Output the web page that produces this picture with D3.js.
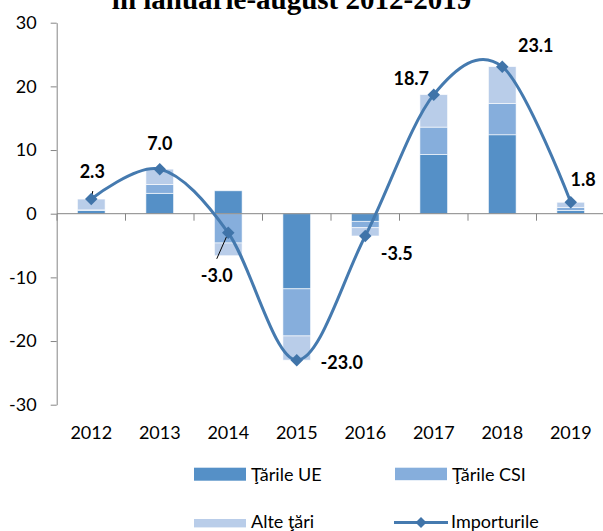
<!DOCTYPE html>
<html>
<head>
<meta charset="utf-8">
<script src="https://cdn.jsdelivr.net/npm/d3@7/dist/d3.min.js"></script>
<style>
  html, body { margin: 0; padding: 0; background: #fff; }
  svg { display: block; }
  text { font-family: Lato, "Open Sans", sans-serif; }
</style>
</head>
<body>
<svg id="chart" width="603" height="531"></svg>
<script>
// Categories and series (mil. USD, variation)
const years = ["2012", "2013", "2014", "2015", "2016", "2017", "2018", "2019"];
const tariUE  = [0.5, 3.2, 3.6, -11.8, -1.2, 9.3, 12.4, 0.5];
const tariCSI = [0.1, 1.4, -4.6, -7.4, -1.0, 4.3, 4.9, 0.5];
const alteTari = [1.7, 2.4, -2.0, -3.8, -1.3, 5.1, 5.8, 0.8];
const importurile = [2.3, 7.0, -3.0, -23.0, -3.5, 18.7, 23.1, 1.8];
const yTicks = [-30, -20, -10, 0, 10, 20, 30];
const seriesNames = ["Ţările UE", "Ţările CSI", "Alte ţări", "Importurile"];
const titleText = "în ianuarie-august 2012-2019";

// Styling
const colors = { ue: "#5590c7", csi: "#86aedc", alte: "#b9cde9", line: "#457aaf", axis: "#868686" };
// Label placement relative to each marker [dx, dy]
const labelOffsets = [[1, -28], [0, -26], [-11.5, 43], [45, 2], [31.5, 17.5], [-22.5, -16.3], [33.5, -21.6], [12.3, -22.5]];
// Leader lines: start offset from the label centre (null = none)
const leaders = [[0.5, 20], null, [0, -17], null, null, null, null, null];

const svg = d3.select("#chart");

const x = d3.scaleBand()
  .domain(years)
  .range([57, 605])
  .paddingInner(0.5955)
  .paddingOuter(0.5955 / 2);
const step = x.step();

const y = d3.scaleLinear().domain([-30, 30]).range([404.7, 22.7]);

// Title (only the lower line remains inside the frame)
svg.append("text")
  .attr("x", 291.5).attr("y", 8.5)
  .attr("text-anchor", "middle")
  .style("font-family", "'Liberation Serif', 'Times New Roman', serif")
  .style("font-weight", "bold")
  .style("font-size", "29px")
  .text(titleText);

// Y axis
const yAxis = d3.axisLeft(y).tickValues(yTicks).tickSize(6).tickSizeOuter(0).tickPadding(14)
  .tickFormat(d => String(d));
const gy = svg.append("g").attr("transform", "translate(56.7,0)").call(yAxis);
gy.select(".domain").attr("stroke", colors.axis);
gy.selectAll(".tick line").attr("stroke", colors.axis);
gy.selectAll(".tick text").style("font-size", "18px").attr("fill", "#000")
  .style("font-family", "Lato, 'Open Sans', sans-serif");

// Stacked bars
const rows = years.map((yr, i) => ({ year: yr, ue: tariUE[i], csi: tariCSI[i], alte: alteTari[i] }));
const stack = d3.stack().keys(["ue", "csi", "alte"]).offset(d3.stackOffsetDiverging);
const layers = stack(rows);

svg.append("g").selectAll("g")
  .data(layers)
  .join("g")
  .attr("fill", d => colors[d.key])
  .selectAll("rect")
  .data(d => d)
  .join("rect")
  .attr("x", d => x(d.data.year))
  .attr("width", x.bandwidth())
  .attr("y", d => y(Math.max(d[0], d[1])))
  .attr("height", d => Math.abs(y(d[0]) - y(d[1])))
  .attr("stroke", "#ffffff")
  .attr("stroke-opacity", 0.75)
  .attr("stroke-width", 0.8);

// Zero axis with category ticks
const x0 = x.range()[0];
svg.append("line")
  .attr("x1", x0).attr("x2", x.range()[1])
  .attr("y1", y(0)).attr("y2", y(0))
  .attr("stroke", colors.axis).attr("stroke-width", 1);
svg.append("g").selectAll("line")
  .data(d3.range(years.length + 1))
  .join("line")
  .attr("x1", i => x0 + i * step).attr("x2", i => x0 + i * step)
  .attr("y1", y(0)).attr("y2", y(0) + 7)
  .attr("stroke", colors.axis).attr("stroke-width", 1);

// Category labels
const xAxis = d3.axisBottom(x).tickSize(0).tickPadding(22);
const gx = svg.append("g").attr("transform", `translate(0,${y.range()[0]})`).call(xAxis);
gx.select(".domain").remove();
gx.selectAll(".tick text").style("font-size", "18px").attr("fill", "#000")
  .style("font-family", "Lato, 'Open Sans', sans-serif");

// Smoothed import line
const pts = years.map((yr, i) => [x(yr) + x.bandwidth() / 2, y(importurile[i])]);
svg.append("path")
  .attr("d", d3.line().curve(d3.curveCardinal.tension(0))(pts))
  .attr("fill", "none")
  .attr("stroke", colors.line)
  .attr("stroke-width", 3);

// Leader lines
svg.append("g").selectAll("line")
  .data(pts.map((p, i) => ({ p, i })).filter(d => leaders[d.i]))
  .join("line")
  .attr("x1", d => d.p[0] + labelOffsets[d.i][0] + leaders[d.i][0])
  .attr("y1", d => d.p[1] + labelOffsets[d.i][1] + leaders[d.i][1])
  .attr("x2", d => d.p[0])
  .attr("y2", d => d.p[1])
  .attr("stroke", "#000").attr("stroke-width", 1);

// Diamond markers
const diamond = d3.symbol().type(d3.symbolSquare).size(78);
svg.append("g").selectAll("path")
  .data(pts)
  .join("path")
  .attr("d", diamond())
  .attr("transform", d => `translate(${d[0]},${d[1]}) rotate(45)`)
  .attr("fill", "#4074a9");

// Value labels
svg.append("g").selectAll("text")
  .data(pts)
  .join("text")
  .attr("x", (d, i) => d[0] + labelOffsets[i][0])
  .attr("y", (d, i) => d[1] + labelOffsets[i][1])
  .attr("text-anchor", "middle")
  .attr("dy", "0.36em")
  .style("font-size", "18px")
  .style("font-weight", "bold")
  .attr("fill", "#000")
  .text((d, i) => importurile[i].toFixed(1));

// Legend
const legend = svg.append("g");
const legendItems = [
  { name: seriesNames[0], kind: "rect", color: colors.ue, x: 194, y: 481, sy: 467.7, sh: 13 },
  { name: seriesNames[1], kind: "rect", color: colors.csi, x: 395, y: 481, sy: 467.7, sh: 12.5 },
  { name: seriesNames[2], kind: "rect", color: colors.alte, x: 194, y: 528, sy: 519, sh: 8.4 },
  { name: seriesNames[3], kind: "line", color: colors.line, x: 394, y: 528, sy: 522.5 }
];
legendItems.forEach(it => {
  if (it.kind === "rect") {
    legend.append("rect").attr("x", it.x).attr("y", it.sy).attr("width", 52).attr("height", it.sh)
      .attr("fill", it.color);
  } else {
    legend.append("line").attr("x1", it.x).attr("x2", it.x + 54).attr("y1", it.sy).attr("y2", it.sy)
      .attr("stroke", it.color).attr("stroke-width", 3);
    legend.append("path").attr("d", d3.symbol().type(d3.symbolSquare).size(60)())
      .attr("transform", `translate(${it.x + 27},${it.sy}) rotate(45)`).attr("fill", "#4074a9");
  }
  legend.append("text").attr("x", it.x + 57).attr("y", it.y)
    .style("font-size", "18px").attr("fill", "#000").text(it.name);
});
</script>
</body>
</html>
